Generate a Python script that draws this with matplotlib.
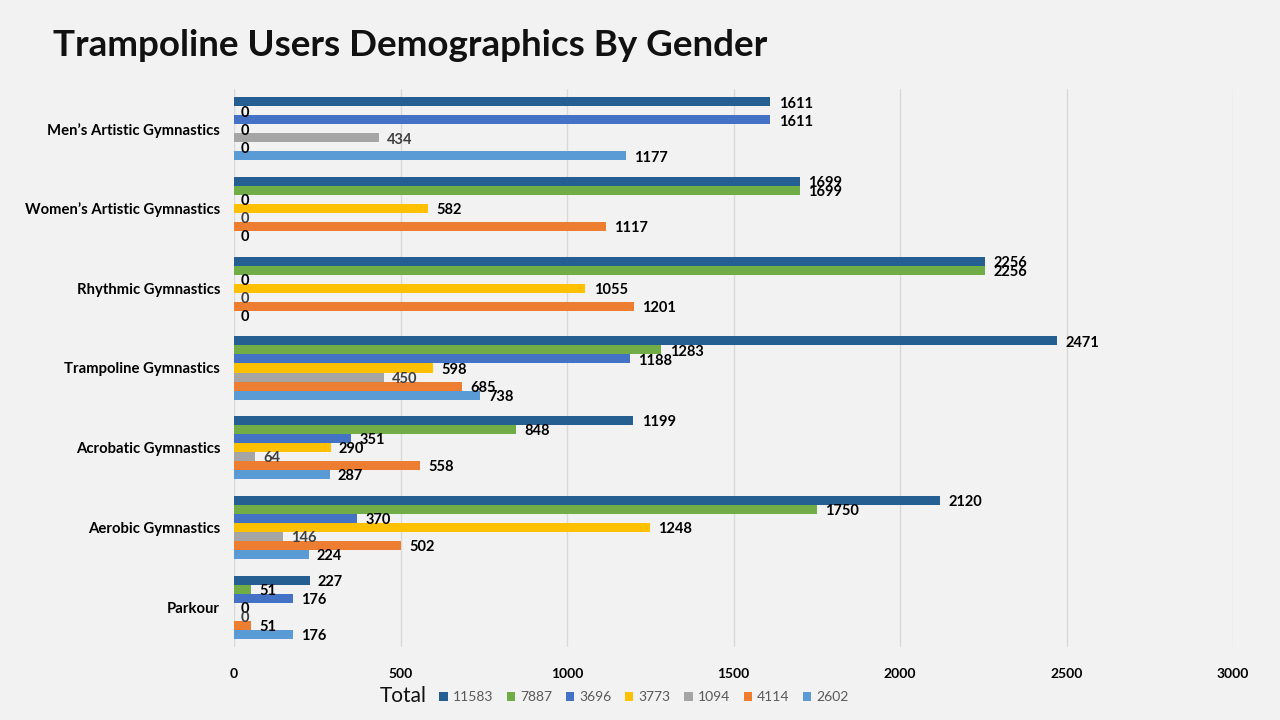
import matplotlib.pyplot as plt
import numpy as np
from matplotlib.patches import Patch

categories = ["Men’s Artistic Gymnastics", "Women’s Artistic Gymnastics", "Rhythmic Gymnastics",
              "Trampoline Gymnastics", "Acrobatic Gymnastics", "Aerobic Gymnastics", "Parkour"]
series_names = ["11583", "7887", "3696", "3773", "1094", "4114", "2602"]
s11583 = [1611, 1699, 2256, 2471, 1199, 2120, 227]
s7887 = [0, 1699, 2256, 1283, 848, 1750, 51]
s3696 = [1611, 0, 0, 1188, 351, 370, 176]
s3773 = [0, 582, 1055, 598, 290, 1248, 0]
s1094 = [434, 0, 0, 450, 64, 146, 0]
s4114 = [0, 1117, 1201, 685, 558, 502, 51]
s2602 = [1177, 0, 0, 738, 287, 224, 176]
series = [s11583, s7887, s3696, s3773, s1094, s4114, s2602]
colors = ["#255e91", "#70ad47", "#4472c4", "#ffc000", "#a5a5a5", "#ed7d31", "#5b9bd5"]
xticks = [0, 500, 1000, 1500, 2000, 2500, 3000]

plt.rcParams['font.family'] = ['Lato', 'DejaVu Sans']
bg = "#f2f2f2"
fig = plt.figure(figsize=(12.8, 7.2), dpi=100, facecolor=bg)
ax = fig.add_axes([234/1280, 1-647/720, (1233-234)/1280, (647-89)/720], facecolor=bg)

n = len(series)
bh = 0.113
y = np.arange(len(categories))
for i, (vals, c) in enumerate(zip(series, colors)):
    pos = y - (n-1)/2*bh + i*bh
    ax.barh(pos, vals, height=bh, color=c, zorder=3)
    lc = "#3f3f3f" if i == 4 else "black"
    for p, v in zip(pos, vals):
        ax.annotate(str(v), (v, p), xytext=(6 if v > 0 else 5, -1.2), textcoords='offset points',
                    va='center', ha='left', fontsize=10.5, fontweight='bold', color=lc, zorder=4)

ax.set_xlim(0, 3000)
ax.set_ylim(len(categories)-0.5, -0.5)
ax.set_xticks(xticks)
ax.set_xticklabels([str(t) for t in xticks], fontsize=10, fontweight='bold')
ax.set_yticks(y)
ax.set_yticklabels(categories, fontsize=10.7, fontweight='bold')
ax.tick_params(axis='both', length=0)
ax.tick_params(axis='x', pad=15)
ax.tick_params(axis='y', pad=10)
ax.grid(axis='x', color='#d9d9d9', linewidth=1, zorder=0)
for s in ax.spines.values():
    s.set_visible(False)

fig.text(53/1280, 1-46/720, "Trampoline Users Demographics By Gender", fontsize=26.5,
         fontweight='bold', va='center', ha='left', color='#111111')

fig.text(380/1280, 1-696/720, "Total", fontsize=15, va='center', ha='left', color='#111111')
handles = [Patch(facecolor=c, edgecolor='none') for c in colors]
leg = fig.legend(handles, series_names, loc='center', bbox_to_anchor=(644/1280, 1-697/720),
                 ncol=7, frameon=False, fontsize=10, handlelength=0.6, handleheight=0.6,
                 handletextpad=0.35, columnspacing=1.0)
for t in leg.get_texts():
    t.set_color('#595959')

fig.savefig("out.png", dpi=100, facecolor=bg)
